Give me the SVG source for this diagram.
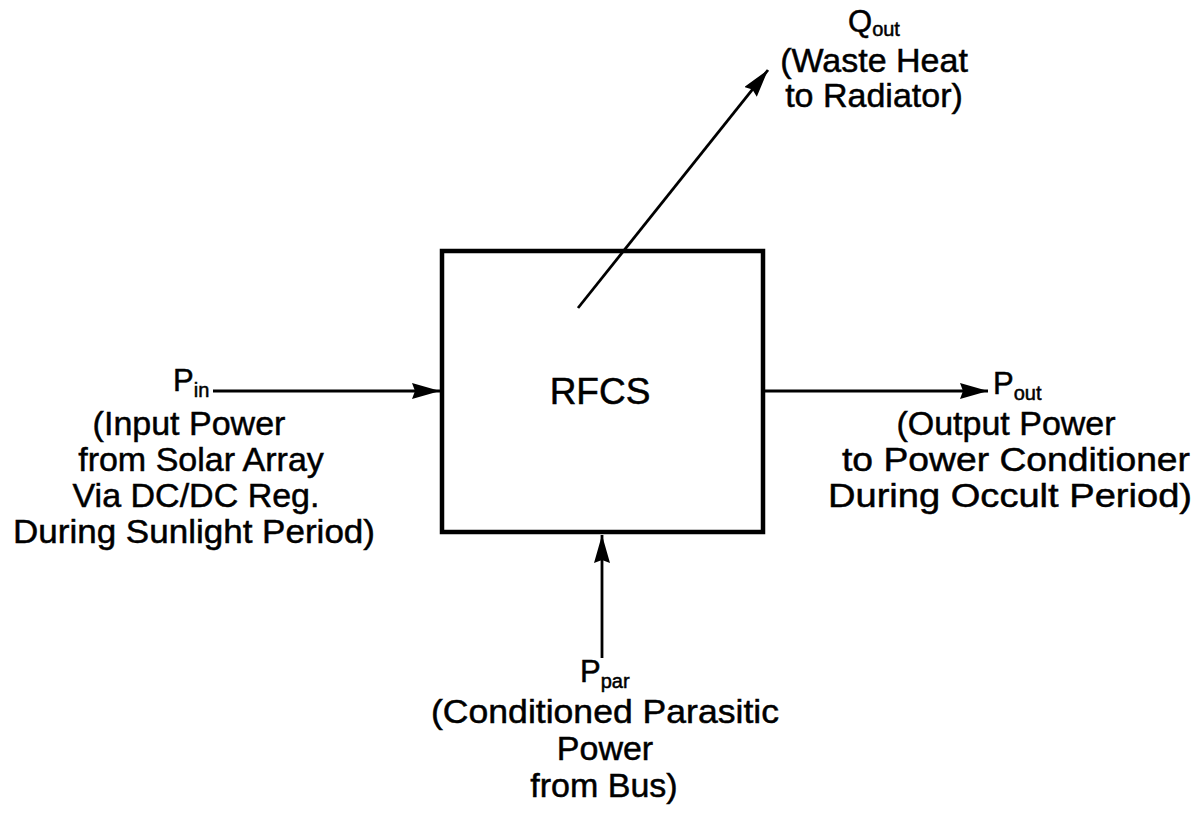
<svg xmlns="http://www.w3.org/2000/svg" width="1201" height="819" viewBox="0 0 1201 819">
<style>
text{font-family:"Liberation Sans",Arial,Helvetica,sans-serif;fill:#000;stroke:#000;stroke-width:0.5}
.t{font-size:34px;text-anchor:middle}
.sym{font-size:31px}
.sub{font-size:20px}
.box{fill:#fff;stroke:#000;stroke-width:4.5}
.ln{stroke:#000;stroke-width:2.8;fill:none}
</style>
<defs>
<marker id="ah" viewBox="0 0 28 16" refX="28" refY="8" markerWidth="28" markerHeight="16" markerUnits="userSpaceOnUse" orient="auto">
<path d="M0,0 L28,8 L0,16 L3,8 Z" fill="#000"/>
</marker>
</defs>
<rect width="1201" height="819" fill="#fff"/>
<g id="rfcs">
<rect class="box" x="442" y="251" width="321" height="281"/>
<text class="t" x="600" y="404" style="font-size:37px">RFCS</text>
</g>
<g id="connectors">
<line class="ln" x1="213" y1="391" x2="440" y2="391" marker-end="url(#ah)"/>
<line class="ln" x1="765" y1="391" x2="988" y2="391" marker-end="url(#ah)"/>
<line class="ln" x1="602" y1="658" x2="602" y2="535" marker-end="url(#ah)"/>
<line class="ln" x1="578" y1="308" x2="768" y2="70" marker-end="url(#ah)"/>
</g>
<g id="pin">
<text x="173" y="391"><tspan class="sym">P</tspan><tspan class="sub" dy="6">in</tspan></text>
<text class="t" x="189" y="435">(Input Power</text>
<text class="t" x="201" y="471">from Solar Array</text>
<text class="t" x="196" y="507">Via DC/DC Reg.</text>
<text class="t" x="194" y="543" textLength="362" lengthAdjust="spacingAndGlyphs">During Sunlight Period)</text>
</g>
<g id="pout">
<text x="993" y="394"><tspan class="sym">P</tspan><tspan class="sub" dy="6">out</tspan></text>
<text class="t" x="1006" y="435">(Output Power</text>
<text class="t" x="1016" y="471" textLength="348" lengthAdjust="spacingAndGlyphs">to Power Conditioner</text>
<text class="t" x="1010" y="507" textLength="364" lengthAdjust="spacingAndGlyphs">During Occult Period)</text>
</g>
<g id="qout">
<text x="848" y="32"><tspan class="sym">Q</tspan><tspan class="sub" dy="4">out</tspan></text>
<text class="t" x="874" y="72">(Waste Heat</text>
<text class="t" x="874" y="107">to Radiator)</text>
</g>
<g id="ppar">
<text x="580" y="682"><tspan class="sym">P</tspan><tspan class="sub" dy="6">par</tspan></text>
<text class="t" x="605" y="723" textLength="348" lengthAdjust="spacingAndGlyphs">(Conditioned Parasitic</text>
<text class="t" x="605" y="760">Power</text>
<text class="t" x="604" y="797">from Bus)</text>
</g>
</svg>
